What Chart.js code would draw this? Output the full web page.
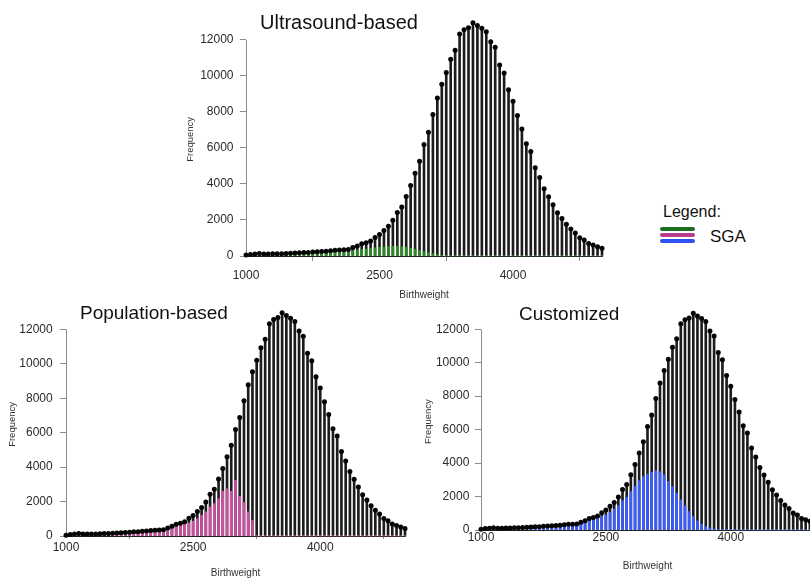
<!DOCTYPE html>
<html>
<head>
<meta charset="utf-8">
<script src="https://cdn.jsdelivr.net/npm/chart.js@4.4.1/dist/chart.umd.min.js"></script>
<style>
  html, body { margin: 0; padding: 0; width: 810px; height: 578px; overflow: hidden; background: #fff; }
  body { position: relative; font-family: "Liberation Sans", Arial, sans-serif; color: #111; }
  canvas { position: absolute; }
  .title { position: absolute; white-space: nowrap; color: #111; }
  .legend-line { position: absolute; left: 660px; width: 35px; height: 4px; border-radius: 2px; }
</style>
</head>
<body>
<canvas id="ultrasound" width="440" height="310" style="left:180px;top:0"></canvas>
<canvas id="population" width="420" height="288" style="left:0;top:290px"></canvas>
<canvas id="customized" width="420" height="288" style="left:410px;top:290px"></canvas>

<div class="title" style="left:260px;top:11.6px;font-size:20px;line-height:20px">Ultrasound-based</div>
<div class="title" style="left:80px;top:302.5px;font-size:19px;line-height:19px">Population-based</div>
<div class="title" style="left:519px;top:304px;font-size:19px;line-height:19px">Customized</div>

<div class="title" style="left:663px;top:203.5px;font-size:16px;line-height:16px">Legend:</div>
<div class="legend-line" style="top:227.3px;background:#1f6e1f"></div>
<div class="legend-line" style="top:233px;background:#b83c8c"></div>
<div class="legend-line" style="top:239px;background:#2f52f0"></div>
<div class="title" style="left:710px;top:228.3px;font-size:17px;line-height:17px">SGA</div>

<script>
// 50 g birthweight bins
const BIRTHWEIGHT = [
  1000, 1050, 1100, 1150, 1200, 1250, 1300, 1350, 1400, 1450,
  1500, 1550, 1600, 1650, 1700, 1750, 1800, 1850, 1900, 1950,
  2000, 2050, 2100, 2150, 2200, 2250, 2300, 2350, 2400, 2450,
  2500, 2550, 2600, 2650, 2700, 2750, 2800, 2850, 2900, 2950,
  3000, 3050, 3100, 3150, 3200, 3250, 3300, 3350, 3400, 3450,
  3500, 3550, 3600, 3650, 3700, 3750, 3800, 3850, 3900, 3950,
  4000, 4050, 4100, 4150, 4200, 4250, 4300, 4350, 4400, 4450,
  4500, 4550, 4600, 4650, 4700, 4750, 4800, 4850, 4900, 4950,
  5000
];

// all births per bin
const ALL_BIRTHS = [
  50, 90, 110, 140, 110, 110, 120, 120, 130, 140,
  150, 160, 180, 190, 200, 220, 240, 250, 270, 290,
  320, 340, 350, 360, 470, 560, 680, 740, 830, 1030,
  1190, 1420, 1650, 1980, 2420, 2720, 3310, 3920, 4600, 5270,
  6190, 6880, 7860, 8780, 9540, 10200, 10930, 11430, 12330, 12570,
  12680, 12960, 12800, 12650, 12460, 11900, 11600, 10610, 10170, 9240,
  8600, 7800, 7050, 6230, 5800, 4900, 4360, 3740, 3290, 2850,
  2400, 2090, 1760, 1500, 1280, 1020, 890, 690, 610, 520,
  430
];

// births classified SGA by each standard
const SGA_ULTRASOUND = [
  40, 70, 90, 110, 90, 90, 100, 100, 110, 110,
  120, 130, 140, 150, 160, 170, 180, 190, 200, 220,
  230, 250, 260, 280, 300, 330, 360, 390, 420, 450,
  480, 500, 520, 540, 540, 520, 490, 440, 380, 310,
  240, 180, 120, 80, 40, 0, 0, 0, 0, 0,
  0, 0, 0, 0, 0, 0, 0, 0, 0, 0,
  0, 0, 0, 0, 0, 0, 0, 0, 0, 0,
  0, 0, 0, 0, 0, 0, 0, 0, 0, 0,
  0
];

const SGA_POPULATION = [
  40, 80, 100, 120, 100, 100, 110, 110, 120, 120,
  130, 140, 160, 170, 180, 190, 210, 220, 240, 260,
  280, 300, 310, 330, 400, 470, 560, 610, 680, 760,
  860, 1000, 1200, 1400, 1690, 1880, 2170, 2600, 2750, 2600,
  3240, 2300, 1950, 1400, 900, 0, 0, 0, 0, 0,
  0, 0, 0, 0, 0, 0, 0, 0, 0, 0,
  0, 0, 0, 0, 0, 0, 0, 0, 0, 0,
  0, 0, 0, 0, 0, 0, 0, 0, 0, 0,
  0
];

const SGA_CUSTOMIZED = [
  40, 80, 100, 120, 100, 100, 110, 110, 120, 120,
  130, 140, 160, 170, 180, 190, 210, 220, 240, 260,
  280, 300, 310, 330, 420, 500, 600, 640, 700, 800,
  900, 1050, 1250, 1450, 1750, 1950, 2300, 2600, 2950, 3200,
  3350, 3450, 3550, 3480, 3300, 2900, 2600, 2200, 1800, 1450,
  1100, 800, 550, 350, 200, 110, 60, 40, 30, 20,
  20, 0, 0, 0, 20, 0, 0, 0, 0, 0,
  0, 0, 0, 0, 0, 0, 0, 0, 0, 0,
  0
];

const X_TICKS = [1000, 2500, 4000];
const Y_TICKS = [0, 2000, 4000, 6000, 8000, 10000, 12000];

Chart.defaults.font.family = '"Liberation Sans", Arial, sans-serif';

const toPoints = values => BIRTHWEIGHT.map((x, i) => ({ x, y: values[i] }));
const plainNumber = value => String(value);

// base-R style y axis: the line only runs from the first to the last tick
const yAxisLine = {
  id: 'yAxisLine',
  beforeDatasetsDraw(chart) {
    const { ctx, chartArea, scales: { y } } = chart;
    const x = Math.round(chartArea.left) + 0.5;
    ctx.save();
    ctx.strokeStyle = '#8c8c8c';
    ctx.lineWidth = 1;
    ctx.beginPath();
    ctx.moveTo(x, y.getPixelForValue(Y_TICKS[0]));
    ctx.lineTo(x, y.getPixelForValue(Y_TICKS[Y_TICKS.length - 1]));
    ctx.stroke();
    ctx.restore();
  }
};

function drawPanel(id, sga, sgaColor, g) {
  return new Chart(document.getElementById(id), {
    type: 'bar',
    data: {
      datasets: [
        {
          type: 'line',
          data: toPoints(ALL_BIRTHS),
          showLine: false,
          pointRadius: 2.5,
          pointHoverRadius: 2.5,
          pointBackgroundColor: '#050505',
          pointBorderWidth: 0,
          clip: false,
          order: 0
        },
        {
          data: toPoints(sga),
          backgroundColor: sgaColor,
          barThickness: 2,
          grouped: false,
          clip: false,
          order: 1
        },
        {
          data: toPoints(ALL_BIRTHS),
          backgroundColor: '#1c1c1c',
          barThickness: 2,
          grouped: false,
          clip: false,
          order: 2
        }
      ]
    },
    options: {
      responsive: false,
      animation: false,
      devicePixelRatio: 1,
      events: [],
      layout: { padding: { top: g.top, right: g.right, left: 0, bottom: 0 } },
      plugins: { legend: { display: false }, tooltip: { enabled: false } },
      scales: {
        x: {
          type: 'linear',
          min: 1000,
          max: 5000,
          offset: false,
          afterBuildTicks: axis => { axis.ticks = X_TICKS.map(value => ({ value })); },
          afterFit: axis => { axis.height = g.xHeight; },
          border: { color: '#222', width: 1 },
          grid: { drawOnChartArea: false, tickLength: g.xTick, color: '#8c8c8c' },
          ticks: {
            padding: g.xPad,
            color: '#2a2a2a',
            autoSkip: false,
            maxRotation: 0,
            callback: plainNumber,
            font: { size: 12, lineHeight: 1 }
          },
          title: {
            display: true,
            text: 'Birthweight',
            color: '#333',
            font: { size: 10, lineHeight: 1 },
            padding: { top: 0, bottom: g.xTitle }
          }
        },
        y: {
          min: 0,
          max: Math.max(...ALL_BIRTHS),
          afterBuildTicks: axis => { axis.ticks = Y_TICKS.map(value => ({ value })); },
          afterFit: axis => { axis.width = g.yWidth; },
          border: { display: false },
          grid: { drawOnChartArea: false, tickLength: 6, color: '#8c8c8c' },
          ticks: {
            padding: g.yPad,
            color: '#2a2a2a',
            callback: plainNumber,
            font: { size: 12, lineHeight: 1 }
          },
          title: {
            display: true,
            text: 'Frequency',
            color: '#333',
            font: { size: 9.5, lineHeight: 1 },
            padding: { top: g.yTitle, bottom: 0 }
          }
        }
      }
    },
    plugins: [yAxisLine]
  });
}

drawPanel('ultrasound', SGA_ULTRASOUND, '#2e8a26', {
  top: 22.7, right: 18, xHeight: 54, yWidth: 66,
  xTick: 5, xPad: 8.3, xTitle: 10, yPad: 6.5, yTitle: 5.25
});
drawPanel('population', SGA_POPULATION, '#cc4fa0', {
  top: 22.8, right: 15, xHeight: 42, yWidth: 66,
  xTick: 3, xPad: 2.3, xTitle: 0, yPad: 7.3, yTitle: 7.5
});
drawPanel('customized', SGA_CUSTOMIZED, '#3a5cff', {
  top: 23.2, right: 16, xHeight: 48, yWidth: 71,
  xTick: 1.5, xPad: 0.2, xTitle: 6.3, yPad: 5.7, yTitle: 13.5
});
</script>
</body>
</html>
